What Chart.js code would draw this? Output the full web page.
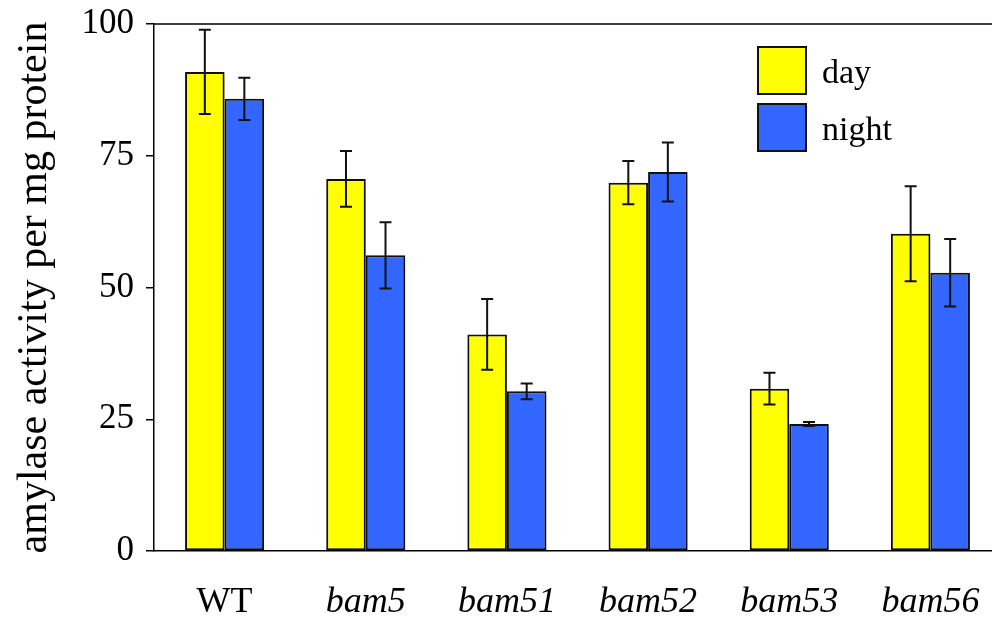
<!DOCTYPE html>
<html>
<head>
<meta charset="utf-8">
<script src="https://cdn.jsdelivr.net/npm/chart.js@4/dist/chart.umd.min.js"></script>
<style>
  html, body { margin: 0; padding: 0; background: #fff; overflow: hidden; }
  #wrap { width: 1001px; height: 619px; }
</style>
</head>
<body>
<div id="wrap"><canvas id="amylaseChart"></canvas></div>
<script>
const categories = ['WT', 'bam5', 'bam51', 'bam52', 'bam53', 'bam56'];
const dayValues = [90.9, 70.6, 41.1, 69.9, 30.8, 60.2];
const dayErrors = [8.0, 5.3, 6.7, 4.1, 3.0, 9.0];
const nightValues = [85.8, 56.1, 30.3, 71.9, 24.1, 52.8];
const nightErrors = [4.0, 6.3, 1.5, 5.6, 0.4, 6.4];
const yTicks = [0, 25, 50, 75, 100];

const serif = "'Liberation Serif', 'Times New Roman', serif";

// shadow under the bars
const shadowPlugin = {
    id: 'barShadow',
    beforeDatasetsDraw(chart) {
        const ctx = chart.ctx;
        ctx.save();
        ctx.shadowColor = 'rgba(0, 0, 0, 0.3)';
        ctx.shadowBlur = 7;
        ctx.shadowOffsetX = 1;
        ctx.shadowOffsetY = 4;
    },
    afterDatasetsDraw(chart) {
        chart.ctx.restore();
    }
};

const errorBarPlugin = {
    id: 'errorBars',
    afterDatasetsDraw(chart) {
        const ctx = chart.ctx;
        const y = chart.scales.y;
        ctx.save();
        ctx.strokeStyle = '#111';
        ctx.lineWidth = 2;
        chart.data.datasets.forEach((ds, i) => {
            const meta = chart.getDatasetMeta(i);
            meta.data.forEach((bar, j) => {
                const v = ds.data[j], e = ds.errors[j];
                const top = y.getPixelForValue(v + e);
                const bot = y.getPixelForValue(v - e);
                ctx.beginPath();
                ctx.moveTo(bar.x, top); ctx.lineTo(bar.x, bot);
                ctx.moveTo(bar.x - 6, top); ctx.lineTo(bar.x + 6, top);
                ctx.moveTo(bar.x - 6, bot); ctx.lineTo(bar.x + 6, bot);
                ctx.stroke();
            });
        });
        ctx.restore();
    }
};

// top frame line + legend boxes inside the plot
const framePlugin = {
    id: 'frameAndLegend',
    afterDraw(chart) {
        const ctx = chart.ctx;
        const area = chart.chartArea;
        ctx.save();
        ctx.strokeStyle = '#000';
        ctx.lineWidth = 1.5;
        ctx.beginPath();
        ctx.moveTo(area.left, area.top);
        ctx.lineTo(area.right, area.top);
        ctx.stroke();

        let top = 46;
        chart.data.datasets.forEach(ds => {
            ctx.fillStyle = ds.backgroundColor;
            ctx.fillRect(757, top, 50, 49);
            ctx.lineWidth = 2;
            ctx.strokeStyle = '#111';
            ctx.strokeRect(758, top + 1, 48, 47);
            ctx.fillStyle = '#000';
            ctx.font = '34px ' + serif;
            ctx.textBaseline = 'alphabetic';
            ctx.fillText(ds.label, 822, top + 37);
            top += 57;
        });
        ctx.restore();
    }
};

const chartData = {
    labels: categories,
    datasets: [{
        label: 'day',
        data: dayValues,
        errors: dayErrors,
        backgroundColor: '#FFFF00',
        borderColor: '#111',
        borderWidth: 2,
        borderSkipped: false,
        categoryPercentage: 0.56,
        barPercentage: 1.0
    }, {
        label: 'night',
        data: nightValues,
        errors: nightErrors,
        backgroundColor: '#3366FF',
        borderColor: '#111',
        borderWidth: 2,
        borderSkipped: false,
        categoryPercentage: 0.56,
        barPercentage: 1.0
    }]
};

const chartOptions = {
    responsive: true,
    maintainAspectRatio: false,
    animation: false,
    layout: { padding: { top: 24, left: 0, right: 0, bottom: 0 } },
    plugins: {
        legend: { display: false },
        tooltip: { enabled: false }
    },
    scales: {
        x: {
            grid: { display: false, drawTicks: false },
            border: { display: true, color: '#000', width: 1.5 },
            ticks: {
                color: '#000',
                padding: 30,
                maxRotation: 0,
                font: (c) => ({
                    family: serif,
                    size: 36,
                    style: c.index === 0 ? 'normal' : 'italic'
                })
            },
            afterFit(scale) {
                scale.height = 68;
                scale.paddingLeft = 0;
                scale.paddingRight = 0;
            }
        },
        y: {
            min: 0,
            max: 100,
            afterBuildTicks(scale) {
                scale.ticks = yTicks.map(v => ({ value: v }));
            },
            grid: {
                drawOnChartArea: false,
                drawTicks: true,
                tickLength: 8,
                color: '#000',
                lineWidth: 1.5
            },
            border: { display: true, color: '#000', width: 1.5 },
            ticks: {
                color: '#000',
                padding: 12,
                font: { family: serif, size: 35, lineHeight: 1 }
            },
            title: {
                display: true,
                text: 'amylase activity per mg protein',
                color: '#000',
                font: { family: serif, size: 42 },
                padding: { top: 10, bottom: 0 }
            },
            afterFit(scale) {
                scale.width = 154;
                scale.paddingTop = 0;
                scale.paddingBottom = 0;
            }
        }
    }
};

const ctx = document.getElementById('amylaseChart').getContext('2d');
const amylaseChart = new Chart(ctx, {
    type: 'bar',
    data: chartData,
    options: chartOptions,
    plugins: [shadowPlugin, errorBarPlugin, framePlugin]
});
</script>
</body>
</html>
